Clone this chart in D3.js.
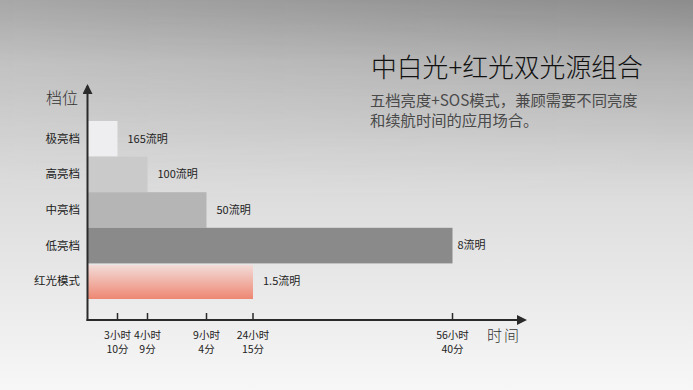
<!DOCTYPE html>
<html>
<head>
<meta charset="utf-8">
<script src="https://cdn.jsdelivr.net/npm/d3@7"></script>
<style>
  body { margin: 0; }
  svg { display: block; }
  text { font-family: "Noto Sans CJK SC", "Noto Sans", sans-serif; }
</style>
</head>
<body>
<div id="chart"></div>
<script>
// brightness levels (top to bottom)
var levels = ["极亮档", "高亮档", "中亮档", "低亮档", "红光模式"];
var lumens = ["165流明", "100流明", "50流明", "8流明", "1.5流明"];
// runtime of each level, minutes
var runtime = [190, 249, 544, 3400, 1455];

// axis ticks (minutes) and their two-line labels
var tickMinutes = [190, 249, 544, 1455, 3400];
var tickHours = ["3小时", "4小时", "9小时", "24小时", "56小时"];
var tickMins = ["10分", "9分", "4分", "15分", "40分"];

var W = 693, H = 390;
var ox = 87.5, oy = 320;

var svg = d3.select("#chart").append("svg")
  .attr("width", W)
  .attr("height", H);

var defs = svg.append("defs");

// background
var bg = defs.append("linearGradient").attr("id", "bg")
  .attr("x1", 0).attr("y1", 0).attr("x2", 0).attr("y2", 1);
bg.append("stop").attr("offset", "0%").attr("stop-color", "#9c9c9c");
bg.append("stop").attr("offset", "16%").attr("stop-color", "#bdbdbd");
bg.append("stop").attr("offset", "45%").attr("stop-color", "#dadada");
bg.append("stop").attr("offset", "100%").attr("stop-color", "#f7f7f7");

var side = defs.append("linearGradient").attr("id", "side")
  .attr("x1", 0).attr("y1", 0).attr("x2", 1).attr("y2", 0);
side.append("stop").attr("offset", "0%").attr("stop-color", "#fff").attr("stop-opacity", 0.12);
side.append("stop").attr("offset", "100%").attr("stop-color", "#000").attr("stop-opacity", 0.1);

var fade = defs.append("linearGradient").attr("id", "fade")
  .attr("x1", 0).attr("y1", 0).attr("x2", 0).attr("y2", 1);
fade.append("stop").attr("offset", "0%").attr("stop-color", "#fff");
fade.append("stop").attr("offset", "100%").attr("stop-color", "#000");
defs.append("mask").attr("id", "fadeMask")
  .append("rect").attr("width", W).attr("height", 200).attr("fill", "url(#fade)");

// red mode bar
var red = defs.append("linearGradient").attr("id", "redGrad")
  .attr("x1", 0).attr("y1", 0).attr("x2", 0).attr("y2", 1);
red.append("stop").attr("offset", "0%").attr("stop-color", "#f3dcd8");
red.append("stop").attr("offset", "100%").attr("stop-color", "#ee8773");

defs.append("marker")
  .attr("id", "arrow")
  .attr("viewBox", "0 0 10 10")
  .attr("refX", 8).attr("refY", 5)
  .attr("markerWidth", 5).attr("markerHeight", 5)
  .attr("orient", "auto")
  .append("path")
  .attr("d", "M0,0 L10,5 L0,10 z")
  .attr("fill", "#2a2a2a");

svg.append("rect").attr("width", W).attr("height", H).attr("fill", "url(#bg)");
svg.append("rect").attr("width", W).attr("height", 200)
  .attr("fill", "url(#side)").attr("mask", "url(#fadeMask)");

// title
svg.append("text")
  .attr("x", 371).attr("y", 77)
  .attr("font-size", 25.8)
  .attr("font-weight", 300)
  .attr("fill", "#111")
  .text("中白光+红光双光源组合");

svg.append("text")
  .attr("x", 370).attr("y", 106)
  .attr("font-size", 15.3)
  .attr("fill", "#4a4a4a")
  .text("五档亮度+SOS模式，兼顾需要不同亮度");
svg.append("text")
  .attr("x", 370).attr("y", 126)
  .attr("font-size", 15.3)
  .attr("fill", "#4a4a4a")
  .text("和续航时间的应用场合。");

// scales: the time axis is not uniform, so a piecewise scale
var x = d3.scaleLinear()
  .domain([0, 190, 249, 544, 1455, 3400])
  .range([ox, ox + 30, ox + 60, ox + 119, ox + 165.5, ox + 365]);

var y = d3.scaleBand()
  .domain(levels)
  .range([121, 299])
  .padding(0);

var colors = ["#eeeef0", "#cacacb", "#b5b5b5", "#8a8a8a", "url(#redGrad)"];

// bars
svg.selectAll(".bar")
  .data(levels)
  .enter().append("rect")
  .attr("class", "bar")
  .attr("x", ox)
  .attr("y", (d, i) => y(d) + (i == 4 ? 1.5 : 0))
  .attr("width", (d, i) => x(runtime[i]) - ox)
  .attr("height", (d, i) => y.bandwidth() - (i == 4 ? 1.5 : 0))
  .attr("fill", (d, i) => colors[i]);

// value labels
svg.selectAll(".val")
  .data(levels)
  .enter().append("text")
  .attr("class", "val")
  .attr("x", (d, i) => x(runtime[i]) + (i == 3 ? 5 : 10))
  .attr("y", d => y(d) + y.bandwidth() / 2)
  .attr("dy", "0.35em")
  .attr("font-size", 11)
  .attr("fill", "#222")
  .text((d, i) => lumens[i]);

// category labels
svg.selectAll(".cat")
  .data(levels)
  .enter().append("text")
  .attr("class", "cat")
  .attr("x", 80)
  .attr("y", d => y(d) + y.bandwidth() / 2)
  .attr("dy", "0.35em")
  .attr("text-anchor", "end")
  .attr("font-size", 11.5)
  .attr("fill", "#222")
  .text(d => d);

// axes
svg.append("line")
  .attr("x1", ox).attr("y1", oy + 1)
  .attr("x2", ox).attr("y2", 86)
  .attr("stroke", "#2a2a2a").attr("stroke-width", 2)
  .attr("marker-end", "url(#arrow)");
svg.append("line")
  .attr("x1", ox - 1).attr("y1", oy)
  .attr("x2", 525).attr("y2", oy)
  .attr("stroke", "#2a2a2a").attr("stroke-width", 2)
  .attr("marker-end", "url(#arrow)");

var ticks = svg.selectAll(".tick")
  .data(tickMinutes)
  .enter().append("g")
  .attr("class", "tick")
  .attr("transform", d => "translate(" + x(d) + ",0)");

ticks.append("line")
  .attr("y1", oy - 7).attr("y2", oy)
  .attr("stroke", "#2a2a2a").attr("stroke-width", 1.5);

ticks.append("text")
  .attr("y", 339)
  .attr("text-anchor", "middle")
  .attr("font-size", 10.5)
  .attr("fill", "#222")
  .text((d, i) => tickHours[i]);

ticks.append("text")
  .attr("y", 353)
  .attr("text-anchor", "middle")
  .attr("font-size", 10.5)
  .attr("fill", "#222")
  .text((d, i) => tickMins[i]);

// axis titles
svg.append("text")
  .attr("x", 46).attr("y", 104)
  .attr("font-size", 16)
  .attr("font-weight", 300)
  .attr("fill", "#333")
  .text("档位");

svg.append("text")
  .attr("x", 487).attr("y", 341)
  .attr("font-size", 15)
  .attr("font-weight", 300)
  .attr("letter-spacing", 2)
  .attr("fill", "#333")
  .text("时间");
</script>
</body>
</html>
